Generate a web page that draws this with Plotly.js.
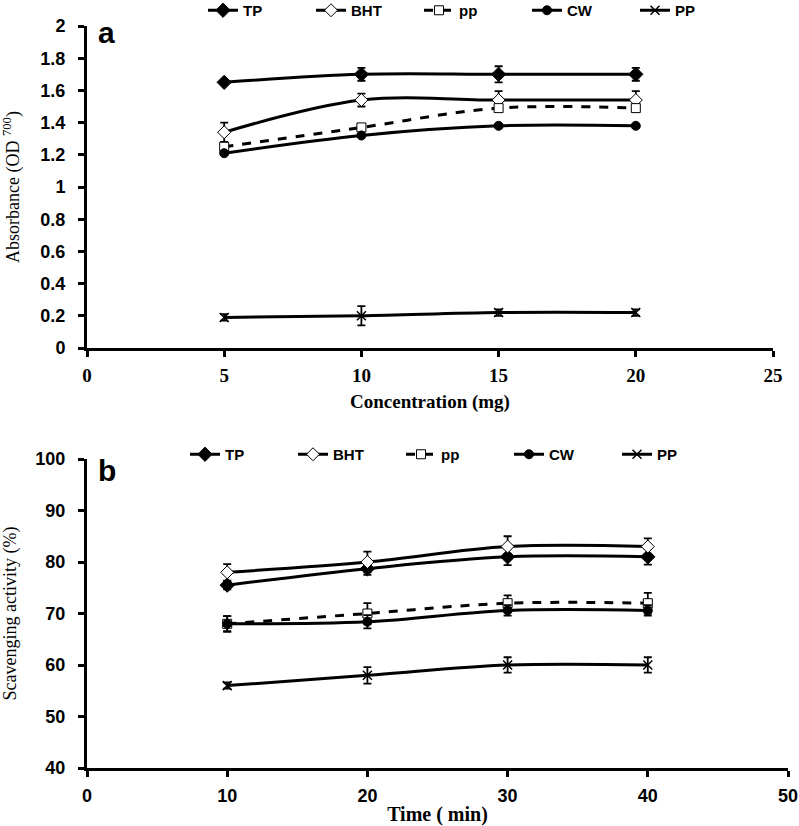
<!DOCTYPE html>
<html><head><meta charset="utf-8">
<script src="https://cdn.plot.ly/plotly-3.0.1.min.js"></script>
<style>html,body{margin:0;padding:0;background:#fff}#c{width:799px;height:826px}</style>
</head><body><div id="c"></div>
<script>
// Panel a: Absorbance vs concentration
const concA = [5, 10, 15, 20];
const a_TP = [1.65, 1.70, 1.70, 1.70];
const a_TP_err = [0.01, 0.04, 0.05, 0.04];
const a_BHT = [1.34, 1.54, 1.54, 1.54];
const a_BHT_err = [0.06, 0.04, 0.055, 0.055];
const a_pp = [1.25, 1.37, 1.49, 1.49];
const a_pp_err = [0.01, 0.01, 0.01, 0.01];
const a_CW = [1.21, 1.32, 1.38, 1.38];
const a_CW_err = [0.01, 0.01, 0.01, 0.01];
const a_PP = [0.19, 0.20, 0.22, 0.22];
const a_PP_err = [0.02, 0.06, 0.02, 0.02];

// Panel b: Scavenging activity vs time
const timeB = [10, 20, 30, 40];
const b_TP = [75.5, 78.7, 81.0, 81.0];
const b_TP_err = [0.8, 1.2, 1.6, 1.5];
const b_BHT = [78.0, 80.0, 83.0, 83.0];
const b_BHT_err = [1.6, 2.0, 2.0, 1.6];
const b_pp = [68.0, 70.0, 72.0, 72.0];
const b_pp_err = [1.5, 2.0, 1.5, 2.0];
const b_CW = [68.0, 68.4, 70.6, 70.6];
const b_CW_err = [1.5, 1.3, 1.0, 1.0];
const b_PP = [56.0, 58.0, 60.0, 60.0];
const b_PP_err = [0.6, 1.6, 1.5, 1.5];

const names = ['TP', 'BHT', 'pp', 'CW', 'PP'];

const styles = {
  TP:  {dash: 'solid', marker: {symbol: 'diamond', size: 11, color: '#000', line: {color: '#000', width: 1}}},
  BHT: {dash: 'solid', marker: {symbol: 'diamond', size: 10, color: '#fff', line: {color: '#000', width: 1}}},
  pp:  {dash: 'dash',  marker: {symbol: 'square', size: 9, color: '#fff', line: {color: '#000', width: 1}}},
  CW:  {dash: 'solid', marker: {symbol: 'circle', size: 9, color: '#000', line: {color: '#000', width: 1}}},
  PP:  {dash: 'solid', marker: {symbol: 'x-thin-open', size: 9, color: '#000', line: {color: '#000', width: 1.5}}}
};

function mk(name, x, y, err, xa, ya, leg) {
  const s = styles[name];
  return {
    type: 'scatter', mode: 'lines+markers', name: name, x: x, y: y,
    xaxis: xa, yaxis: ya, legend: leg, cliponaxis: false,
    line: {color: '#000', width: 3, dash: s.dash, shape: 'spline', smoothing: 1},
    marker: s.marker,
    error_y: {type: 'data', array: err, visible: true, color: '#000', thickness: 1.8, width: 4}
  };
}

const dataA = [a_TP, a_BHT, a_pp, a_CW, a_PP];
const errA = [a_TP_err, a_BHT_err, a_pp_err, a_CW_err, a_PP_err];
const dataB = [b_TP, b_BHT, b_pp, b_CW, b_PP];
const errB = [b_TP_err, b_BHT_err, b_pp_err, b_CW_err, b_PP_err];

const traces = [];
names.forEach((n, i) => traces.push(mk(n, concA, dataA[i], errA[i], 'x', 'y', 'legend')));
names.forEach((n, i) => traces.push(mk(n, timeB, dataB[i], errB[i], 'x2', 'y2', 'legend2')));

const W = 799, H = 826;
const SANS = 'Liberation Sans, Arial, sans-serif';
const SERIF = 'Liberation Serif, Times New Roman, serif';
const sansB = {family: SANS, size: 18, color: '#000', weight: 'bold'};
const serifB = {family: SERIF, size: 19, color: '#000', weight: 'bold'};
const serif = {family: SERIF, size: 18, color: '#000'};

const axBase = {
  showgrid: false, zeroline: false, showline: true, linecolor: '#000', linewidth: 3,
  ticks: 'outside', ticklen: 6, tickwidth: 3, tickcolor: '#000', fixedrange: true,
  automargin: false
};

const legFont = {family: SANS, size: 15, color: '#000', weight: 'bold'};

const layout = {
  width: W, height: H, paper_bgcolor: '#fff', plot_bgcolor: '#fff',
  margin: {l: 0, r: 0, t: 0, b: 0, autoexpand: false},
  showlegend: true,
  xaxis: Object.assign({}, axBase, {
    domain: [87 / W, 773 / W], anchor: 'y', range: [0, 25], dtick: 5, tick0: 0,
    tickfont: Object.assign({}, serifB, {size: 19}), ticklabelstandoff: 2,
    title: {text: 'Concentration (mg)', font: serifB, standoff: 10}
  }),
  yaxis: Object.assign({}, axBase, {
    domain: [1 - 348 / H, 1 - 26 / H], anchor: 'x', range: [0, 2], dtick: 0.2, tick0: 0,
    tickfont: sansB, ticklabelstandoff: 9,
    title: {text: 'Absorbance (OD <sup>700</sup>)', font: serif, standoff: 25}
  }),
  xaxis2: Object.assign({}, axBase, {
    domain: [87 / W, 788 / W], anchor: 'y2', range: [0, 50], dtick: 10, tick0: 0,
    tickfont: sansB, ticklabelstandoff: 3,
    title: {text: 'Time ( min)', font: Object.assign({}, serifB, {size: 20}), standoff: 7}
  }),
  yaxis2: Object.assign({}, axBase, {
    domain: [1 - 768 / H, 1 - 459 / H], anchor: 'x2', range: [40, 100], dtick: 10, tick0: 40,
    tickfont: sansB, ticklabelstandoff: 9,
    title: {text: 'Scavenging activity (%)', font: serif, standoff: 19}
  }),
  legend: {
    orientation: 'h', x: 203 / W, xanchor: 'left', y: 1 + 6 / H, yanchor: 'top',
    font: legFont, bgcolor: 'rgba(0,0,0,0)', itemwidth: 30, tracegroupgap: 0,
    entrywidth: 63, entrywidthmode: 'pixels'
  },
  legend2: {
    orientation: 'h', x: 185 / W, xanchor: 'left', y: 1 - 438 / H, yanchor: 'top',
    font: legFont, bgcolor: 'rgba(0,0,0,0)', itemwidth: 30, tracegroupgap: 0,
    entrywidth: 63, entrywidthmode: 'pixels'
  },
  annotations: [
    {text: 'a', xref: 'paper', yref: 'paper', x: 96 / W, y: 1 - 33 / H, xanchor: 'left', yanchor: 'middle',
     showarrow: false, font: {family: SANS, size: 30, color: '#000', weight: 'bold'}},
    {text: 'b', xref: 'paper', yref: 'paper', x: 96 / W, y: 1 - 471 / H, xanchor: 'left', yanchor: 'middle',
     showarrow: false, font: {family: SANS, size: 30, color: '#000', weight: 'bold'}}
  ]
};

Plotly.newPlot('c', traces, layout, {displayModeBar: false, staticPlot: true});
</script>
</body></html>
